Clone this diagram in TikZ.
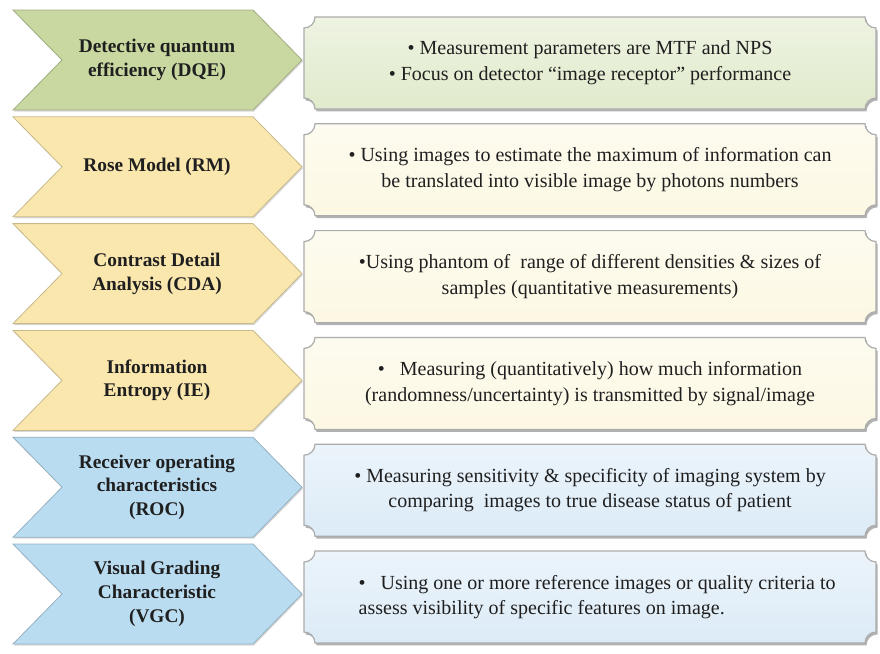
\documentclass[tikz,border=0pt]{standalone}
\usepackage{fontspec}
\setmainfont{LiberationSerif-Regular.ttf}[BoldFont=LiberationSerif-Bold.ttf,
  ItalicFont=LiberationSerif-Italic.ttf]
\usetikzlibrary{positioning}
\definecolor{chevG}{HTML}{C8D8A0}
\definecolor{chevY}{HTML}{FAE7AE}
\definecolor{chevB}{HTML}{BADCF1}
\definecolor{boxG}{HTML}{E0EACB}
\definecolor{boxY}{HTML}{FCF8E3}
\definecolor{boxB}{HTML}{DCEBF7}
\tikzset{
  chevshape/.style={line width=0.6pt, line join=miter},
  chevtext/.style={font=\fontsize{14.5}{17.8}\selectfont\bfseries, text=black!88, align=center},
  boxtext/.style={font=\fontsize{15}{19.2}\selectfont, text=black!88},
  ctr/.style={align=center},
  lft/.style={align=left, anchor=west, xshift=-177pt},
  boxshadow/.style={fill=gray!60},
}
% plaque outline with hollow corners: #1 top, #2 bottom
\newcommand{\plaque}[2]{(304,#1-11) arc(270:360:11) -- (865,#1) arc(180:270:11)
  -- (876,#2+11) arc(90:180:11) -- (315,#2) arc(0:90:11) -- cycle}
% one row: index, chevron colour, box colour, label, text, alignment
\newcommand{\methodrow}[6]{
  \pgfmathsetmacro{\ct}{-10-106.8*#1}
  \pgfmathsetmacro{\cb}{\ct-100}
  \pgfmathsetmacro{\cm}{\ct-50}
  \pgfmathsetmacro{\bt}{-17-106.8*#1}
  \pgfmathsetmacro{\bb}{\bt-92}
  \fill[gray!30] (14,\ct-1.5) -- (254,\ct-1.5) -- (303,\cm-1.5) -- (254,\cb-1.5)
    -- (14,\cb-1.5) -- (63,\cm-1.5) -- cycle;
  \draw[chevshape, fill=#2, draw=#2!80!black] (13,\ct) -- (253,\ct) -- (302,\cm)
    -- (253,\cb) -- (13,\cb) -- (62,\cm) -- cycle;
  \fill[boxshadow, shift={(1.5,-2.4)}] \plaque{\bt}{\bb};
  \shade[top color=#3!55!white, bottom color=#3, draw=gray!65, line width=0.9pt]
    \plaque{\bt}{\bb};
  \node[chevtext] (label#1) at (157,\cm) {#4};
  \node[boxtext, #6] (text#1) at (590,\bt-46) {#5};
}

\begin{document}
\begin{tikzpicture}[x=0.75pt, y=0.75pt]
\useasboundingbox (0,0) rectangle (880,-653);
\fill[white] (0,0) rectangle (880,-653);

\methodrow{0}{chevG}{boxG}{Detective quantum\\efficiency (DQE)}
  {\textbullet{} Measurement parameters are MTF and NPS\\
   \textbullet{} Focus on detector ``image receptor'' performance}{ctr}
\methodrow{1}{chevY}{boxY}{Rose Model (RM)}
  {\textbullet{} Using images to estimate the maximum of information can\\
   be translated into visible image by photons numbers}{ctr}
\methodrow{2}{chevY}{boxY}{Contrast Detail\\Analysis (CDA)}
  {\textbullet Using phantom of\ \ range of different densities \& sizes of\\
   samples (quantitative measurements)}{ctr}
\methodrow{3}{chevY}{boxY}{Information\\Entropy (IE)}
  {\textbullet\ \ \ Measuring (quantitatively) how much information\\
   (randomness/uncertainty) is transmitted by signal/image}{ctr}
\methodrow{4}{chevB}{boxB}{Receiver operating\\characteristics\\(ROC)}
  {\textbullet{} Measuring sensitivity \& specificity of imaging system by\\
   comparing\ \ images to true disease status of patient}{ctr}
\methodrow{5}{chevB}{boxB}{Visual Grading\\Characteristic\\(VGC)}
  {\textbullet\ \ \ Using one or more reference images or quality criteria to\\
   assess visibility of specific features on image.}{lft}
\end{tikzpicture}
\end{document}
